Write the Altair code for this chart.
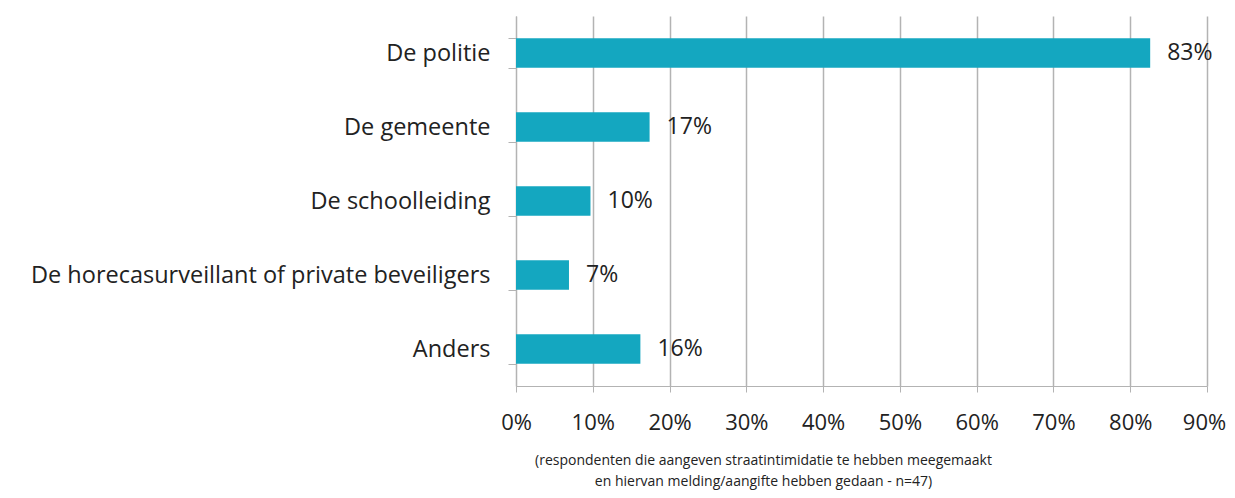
import altair as alt
import pandas as pd

categories = [
    "De politie",
    "De gemeente",
    "De schoolleiding",
    "De horecasurveillant of private beveiligers",
    "Anders",
]
values = [82.6, 17.4, 9.7, 6.9, 16.2]
labels = ["83%", "17%", "10%", "7%", "16%"]
x_ticks = [0, 10, 20, 30, 40, 50, 60, 70, 80, 90]
x_title = [
    "(respondenten die aangeven straatintimidatie te hebben meegemaakt",
    "en hiervan melding/aangifte hebben gedaan  - n=47)",
]

df = pd.DataFrame({"cat": categories, "val": values, "lab": labels})

FONT = "Open Sans"
TXT = "#222222"
GRID = "#B3B3B3"

y = alt.Y(
    "cat:N",
    sort=categories,
    scale=alt.Scale(paddingInner=0.6, paddingOuter=0.3),
    axis=alt.Axis(
        title=None,
        tickBand="extent",
        tickSize=8,
        tickColor=GRID,
        domainColor=GRID,
        labelFontSize=23.5,
        labelFont=FONT,
        labelColor=TXT,
        labelPadding=18,
        labelLimit=600,
    ),
)

x = alt.X(
    "val:Q",
    scale=alt.Scale(domain=[0, 90], nice=False),
    axis=alt.Axis(
        values=x_ticks,
        labelExpr="datum.value + '%'",
        labelFlush=False,
        labelOffset={"condition": {"test": "datum.value == 90", "value": -3}, "value": 0},
        grid=True,
        gridColor=GRID,
        gridWidth=1.5,
        tickColor=GRID,
        tickSize=6,
        domainColor=GRID,
        labelFontSize=22,
        labelFont=FONT,
        labelColor=TXT,
        labelBaseline="middle",
        labelPadding=30,
        title=x_title,
        titleFont=FONT,
        titleFontSize=14,
        titleFontWeight="normal",
        titleColor=TXT,
        titleX=247,
        titleY=67,
        titleAlign="center",
        titleBaseline="top",
        titleLineHeight=21,
    ),
)

bars = alt.Chart(df).mark_bar(color="#14A7C0").encode(x=x, y=y)
text = alt.Chart(df).mark_text(
    align="left", baseline="middle", dx=17, fontSize=23, font=FONT, color=TXT
).encode(x="val:Q", y=alt.Y("cat:N", sort=categories), text="lab:N")

chart = (
    alt.layer(bars, text)
    .properties(
        width=691,
        height=370,
        autosize=alt.AutoSizeParams(type="none"),
        padding={"left": 508, "top": 8, "right": 20, "bottom": 104},
    )
    .configure_view(stroke=None)
)

chart.save("out.html", embed_options={"renderer": "svg", "actions": False})
